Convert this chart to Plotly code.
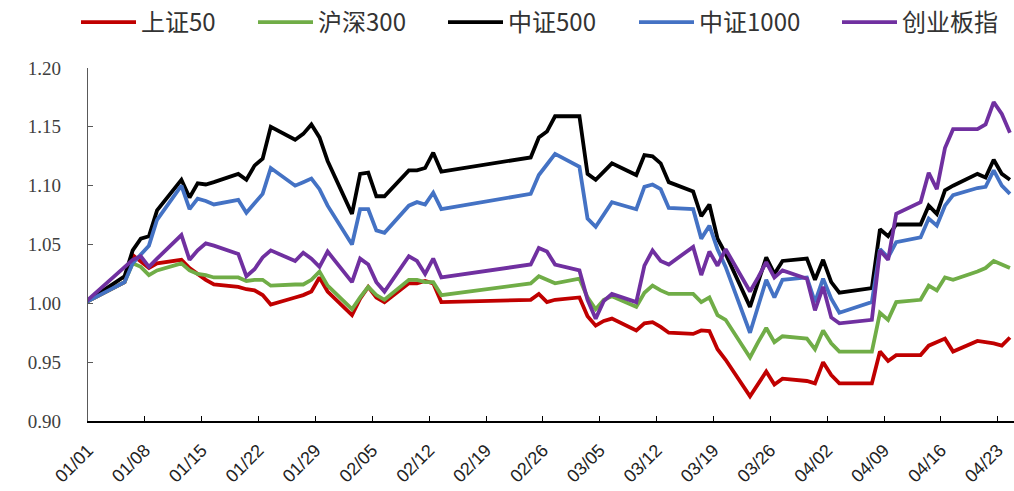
import plotly.graph_objects as go

# Trading days (base point on the last session of the previous year)
dates = [
    "2025-12-31",
    "2026-01-05", "2026-01-06", "2026-01-07", "2026-01-08", "2026-01-09",
    "2026-01-12", "2026-01-13", "2026-01-14", "2026-01-15", "2026-01-16",
    "2026-01-19", "2026-01-20", "2026-01-21", "2026-01-22", "2026-01-23",
    "2026-01-26", "2026-01-27", "2026-01-28", "2026-01-29", "2026-01-30",
    "2026-02-02", "2026-02-03", "2026-02-04", "2026-02-05", "2026-02-06",
    "2026-02-09", "2026-02-10", "2026-02-11", "2026-02-12", "2026-02-13",
    "2026-02-24", "2026-02-25", "2026-02-26", "2026-02-27",
    "2026-03-02", "2026-03-03", "2026-03-04", "2026-03-05", "2026-03-06",
    "2026-03-09", "2026-03-10", "2026-03-11", "2026-03-12", "2026-03-13",
    "2026-03-16", "2026-03-17", "2026-03-18", "2026-03-19", "2026-03-20",
    "2026-03-23", "2026-03-24", "2026-03-25", "2026-03-26", "2026-03-27",
    "2026-03-30", "2026-03-31", "2026-04-01", "2026-04-02", "2026-04-03",
    "2026-04-07", "2026-04-08", "2026-04-09", "2026-04-10",
    "2026-04-13", "2026-04-14", "2026-04-15", "2026-04-16", "2026-04-17",
    "2026-04-20", "2026-04-21", "2026-04-22", "2026-04-23", "2026-04-24",
]

sz50 = [
    1.000,
    1.018, 1.041, 1.035, 1.030, 1.034,
    1.037, 1.030, 1.025, 1.020, 1.016,
    1.014, 1.012, 1.011, 1.007, 0.999,
    1.005, 1.007, 1.010, 1.022, 1.010,
    0.990, 1.004, 1.014, 1.005, 1.001,
    1.017, 1.017, 1.019, 1.017, 1.001,
    1.003, 1.008, 1.001, 1.003,
    1.005, 0.989, 0.981, 0.985, 0.987,
    0.977, 0.983, 0.984, 0.980, 0.975,
    0.974, 0.977, 0.9765, 0.961, 0.952,
    0.921, 0.932, 0.942, 0.931, 0.936,
    0.934, 0.932, 0.950, 0.939, 0.932,
    0.932, 0.959, 0.951, 0.956,
    0.956, 0.964, 0.967, 0.970, 0.959,
    0.968, 0.967, 0.966, 0.964, 0.971,
]

hs300 = [
    1.000,
    1.018, 1.034, 1.031, 1.024, 1.028,
    1.034, 1.028, 1.025, 1.024, 1.022,
    1.022, 1.019, 1.020, 1.020, 1.015,
    1.016, 1.016, 1.020, 1.027, 1.015,
    0.995, 1.005, 1.014, 1.007, 1.003,
    1.020, 1.020, 1.018, 1.018, 1.007,
    1.017, 1.023, 1.020, 1.017,
    1.021, 1.005, 0.995, 1.003, 1.006,
    0.997, 1.009, 1.015, 1.011, 1.008,
    1.008, 1.001, 1.005, 0.990, 0.986,
    0.954, 0.967, 0.979, 0.967, 0.972,
    0.970, 0.961, 0.977, 0.966, 0.959,
    0.959, 0.992, 0.986, 1.001,
    1.003, 1.015, 1.011, 1.022, 1.020,
    1.027, 1.030, 1.036, 1.033, 1.030,
]

zz500 = [
    1.000,
    1.023, 1.045, 1.055, 1.057, 1.079,
    1.105, 1.090, 1.102, 1.101, 1.103,
    1.110, 1.105, 1.117, 1.123, 1.150,
    1.139, 1.144, 1.152, 1.141, 1.121,
    1.076, 1.110, 1.111, 1.091, 1.091,
    1.113, 1.113, 1.115, 1.128, 1.112,
    1.124, 1.141, 1.146, 1.159,
    1.159, 1.110, 1.105, 1.112, 1.119,
    1.109, 1.126, 1.125, 1.119, 1.103,
    1.095, 1.074, 1.084, 1.055, 1.042,
    0.997, 1.018, 1.039, 1.025, 1.036,
    1.038, 1.020, 1.037, 1.018, 1.009,
    1.013, 1.063, 1.057, 1.067,
    1.067, 1.083, 1.076, 1.096, 1.100,
    1.110, 1.107, 1.122, 1.110, 1.105,
]

zz1000 = [
    1.000,
    1.018, 1.034, 1.041, 1.049, 1.071,
    1.100, 1.080, 1.089, 1.087, 1.084,
    1.088, 1.077, 1.085, 1.093, 1.115,
    1.100, 1.103, 1.106, 1.097, 1.083,
    1.050, 1.080, 1.080, 1.062, 1.060,
    1.083, 1.086, 1.084, 1.094, 1.080,
    1.093, 1.109, 1.118, 1.127,
    1.116, 1.072, 1.065, 1.075, 1.086,
    1.080, 1.099, 1.101, 1.097, 1.081,
    1.080, 1.055, 1.066, 1.046, 1.031,
    0.975, 0.997, 1.020, 1.005, 1.020,
    1.022, 1.001, 1.021, 1.004, 0.992,
    1.001, 1.046, 1.039, 1.052,
    1.056, 1.072, 1.066, 1.083, 1.092,
    1.098, 1.099, 1.113, 1.100, 1.093,
]

cyb = [
    1.000,
    1.030, 1.037, 1.040, 1.031, 1.038,
    1.058, 1.037, 1.045, 1.051, 1.049,
    1.042, 1.023, 1.029, 1.039, 1.045,
    1.036, 1.043, 1.038, 1.031, 1.044,
    1.018, 1.038, 1.033, 1.018, 1.010,
    1.040, 1.036, 1.025, 1.038, 1.022,
    1.033, 1.047, 1.044, 1.033,
    1.028, 1.003, 0.987, 1.002, 1.008,
    1.001, 1.032, 1.045, 1.036, 1.033,
    1.048, 1.024, 1.044, 1.032, 1.046,
    1.010, 1.022, 1.035, 1.022, 1.028,
    1.021, 0.994, 1.014, 0.988, 0.983,
    0.986, 1.045, 1.037, 1.076,
    1.086, 1.111, 1.097, 1.132, 1.148,
    1.148, 1.152, 1.171, 1.161, 1.145,
]

series = [
    ("上证50", sz50, "#C00000"),
    ("沪深300", hs300, "#70AD47"),
    ("中证500", zz500, "#000000"),
    ("中证1000", zz1000, "#4472C4"),
    ("创业板指", cyb, "#7030A0"),
]

tick_dates = [
    "2026-01-01", "2026-01-08", "2026-01-15", "2026-01-22", "2026-01-29",
    "2026-02-05", "2026-02-12", "2026-02-19", "2026-02-26", "2026-03-05",
    "2026-03-12", "2026-03-19", "2026-03-26", "2026-04-02", "2026-04-09",
    "2026-04-16", "2026-04-23",
]

# Left edge (px) of each legend entry across the top of the figure
legend_left_px = [76, 253, 443, 634, 837]
W, H = 1014, 491

fig = go.Figure()
legend_ids = ["legend", "legend2", "legend3", "legend4", "legend5"]
for (name, vals, color), lid in zip(series, legend_ids):
    fig.add_trace(go.Scatter(
        x=dates, y=vals, name=name, mode="lines",
        line=dict(color=color, width=3.8),
        xperiod=86400000, xperiodalignment="middle",
        legend=lid,
    ))

legend_style = dict(
    orientation="h", xref="container", yref="container",
    y=1.0, xanchor="left", yanchor="top",
    font=dict(family="Noto Sans CJK SC", size=24, color="#333333"),
    itemwidth=55, bgcolor="rgba(0,0,0,0)",
)
legend_layout = {
    lid: dict(legend_style, x=px / W)
    for lid, px in zip(legend_ids, legend_left_px)
}

fig.update_layout(
    width=W, height=H,
    margin=dict(l=88, r=0, t=68, b=70),
    paper_bgcolor="white", plot_bgcolor="white",
    showlegend=True,
    xaxis=dict(
        type="date",
        range=["2026-01-01", "2026-04-25"],
        tickvals=tick_dates, tickformat="%m/%d", tickangle=-45,
        ticks="inside", ticklen=5, tickcolor="#000000",
        showline=True, linecolor="#000000", linewidth=1.5,
        showgrid=False, zeroline=False,
        ticklabelstandoff=10,
        tickfont=dict(family="Liberation Sans", size=18, color="#222222"),
    ),
    yaxis=dict(
        range=[0.90, 1.20], dtick=0.05, tick0=0.90, tickformat=".2f",
        ticks="inside", ticklen=5, tickcolor="#595959",
        showline=True, linecolor="#595959", linewidth=1.2,
        showgrid=False, zeroline=False,
        ticklabelstandoff=22,
        tickfont=dict(family="Liberation Serif", size=19, color="#404040"),
    ),
    **legend_layout,
)

fig.write_html("out.html")
